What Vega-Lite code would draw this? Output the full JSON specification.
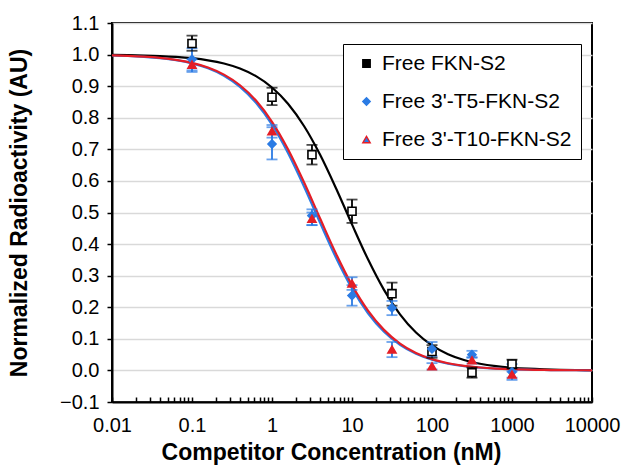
{
  "$schema": "https://vega.github.io/schema/vega-lite/v6.json",
  "width": 480,
  "height": 379,
  "autosize": {"type": "none"},
  "padding": {"left": 112, "top": 23, "right": 31, "bottom": 70},
  "background": "white",
  "config": {
    "font": "Liberation Sans",
    "view": {"stroke": "black", "strokeWidth": 2},
    "axis": {"domainColor": "black", "domainWidth": 2, "tickColor": "black", "labelColor": "black", "titleColor": "black", "labelFont": "Liberation Sans", "titleFont": "Liberation Sans"}
  },
  "datasets": {
    "pts": [
      {"conc": 0.1, "series": "Free FKN-S2", "val": 1.035, "lo": 1.012, "hi": 1.06},
      {"conc": 1, "series": "Free FKN-S2", "val": 0.865, "lo": 0.84, "hi": 0.895},
      {"conc": 3.16, "series": "Free FKN-S2", "val": 0.683, "lo": 0.652, "hi": 0.714},
      {"conc": 10, "series": "Free FKN-S2", "val": 0.504, "lo": 0.467, "hi": 0.541},
      {"conc": 31.6, "series": "Free FKN-S2", "val": 0.243, "lo": 0.205, "hi": 0.278},
      {"conc": 100, "series": "Free FKN-S2", "val": 0.06, "lo": 0.04, "hi": 0.08},
      {"conc": 316, "series": "Free FKN-S2", "val": -0.007, "lo": -0.023, "hi": 0.009},
      {"conc": 1000, "series": "Free FKN-S2", "val": 0.02, "lo": 0.006, "hi": 0.034},
      {"conc": 0.1, "series": "Free 3'-T5-FKN-S2", "val": 0.985, "lo": 0.945, "hi": 1.02},
      {"conc": 1, "series": "Free 3'-T5-FKN-S2", "val": 0.717, "lo": 0.668, "hi": 0.77},
      {"conc": 3.16, "series": "Free 3'-T5-FKN-S2", "val": 0.49, "lo": 0.46, "hi": 0.51},
      {"conc": 10, "series": "Free 3'-T5-FKN-S2", "val": 0.237, "lo": 0.205, "hi": 0.27},
      {"conc": 31.6, "series": "Free 3'-T5-FKN-S2", "val": 0.198, "lo": 0.175, "hi": 0.22},
      {"conc": 100, "series": "Free 3'-T5-FKN-S2", "val": 0.068, "lo": 0.045, "hi": 0.09},
      {"conc": 316, "series": "Free 3'-T5-FKN-S2", "val": 0.05, "lo": 0.04, "hi": 0.062},
      {"conc": 1000, "series": "Free 3'-T5-FKN-S2", "val": -0.005, "lo": -0.03, "hi": 0.02},
      {"conc": 0.1, "series": "Free 3'-T10-FKN-S2", "val": 0.968, "lo": 0.95, "hi": 0.985},
      {"conc": 1, "series": "Free 3'-T10-FKN-S2", "val": 0.757, "lo": 0.737, "hi": 0.777},
      {"conc": 3.16, "series": "Free 3'-T10-FKN-S2", "val": 0.48, "lo": 0.46, "hi": 0.5},
      {"conc": 10, "series": "Free 3'-T10-FKN-S2", "val": 0.275, "lo": 0.255, "hi": 0.295},
      {"conc": 31.6, "series": "Free 3'-T10-FKN-S2", "val": 0.066, "lo": 0.042, "hi": 0.09},
      {"conc": 100, "series": "Free 3'-T10-FKN-S2", "val": 0.013, "lo": 0.003, "hi": 0.023},
      {"conc": 316, "series": "Free 3'-T10-FKN-S2", "val": 0.032, "lo": 0.022, "hi": 0.042},
      {"conc": 1000, "series": "Free 3'-T10-FKN-S2", "val": -0.013, "lo": -0.023, "hi": -0.003}
    ],
    "curve": [
      {"conc": 0.01, "series": "Free FKN-S2", "val": 0.99884},
      {"conc": 0.01585, "series": "Free FKN-S2", "val": 0.99816},
      {"conc": 0.02512, "series": "Free FKN-S2", "val": 0.99709},
      {"conc": 0.03981, "series": "Free FKN-S2", "val": 0.99539},
      {"conc": 0.0631, "series": "Free FKN-S2", "val": 0.99272},
      {"conc": 0.1, "series": "Free FKN-S2", "val": 0.98851},
      {"conc": 0.1585, "series": "Free FKN-S2", "val": 0.9819},
      {"conc": 0.2512, "series": "Free FKN-S2", "val": 0.97162},
      {"conc": 0.3981, "series": "Free FKN-S2", "val": 0.95576},
      {"conc": 0.631, "series": "Free FKN-S2", "val": 0.93165},
      {"conc": 1, "series": "Free FKN-S2", "val": 0.89583},
      {"conc": 1.585, "series": "Free FKN-S2", "val": 0.84438},
      {"conc": 2.512, "series": "Free FKN-S2", "val": 0.77395},
      {"conc": 3.981, "series": "Free FKN-S2", "val": 0.68358},
      {"conc": 6.31, "series": "Free FKN-S2", "val": 0.57681},
      {"conc": 10, "series": "Free FKN-S2", "val": 0.46237},
      {"conc": 15.85, "series": "Free FKN-S2", "val": 0.35176},
      {"conc": 25.12, "series": "Free FKN-S2", "val": 0.25505},
      {"conc": 39.81, "series": "Free FKN-S2", "val": 0.17765},
      {"conc": 63.1, "series": "Free FKN-S2", "val": 0.11995},
      {"conc": 100, "series": "Free FKN-S2", "val": 0.07919},
      {"conc": 158.5, "series": "Free FKN-S2", "val": 0.05147},
      {"conc": 251.2, "series": "Free FKN-S2", "val": 0.0331},
      {"conc": 398.1, "series": "Free FKN-S2", "val": 0.02115},
      {"conc": 631, "series": "Free FKN-S2", "val": 0.01345},
      {"conc": 1000, "series": "Free FKN-S2", "val": 0.00853},
      {"conc": 1585, "series": "Free FKN-S2", "val": 0.0054},
      {"conc": 2512, "series": "Free FKN-S2", "val": 0.00341},
      {"conc": 3981, "series": "Free FKN-S2", "val": 0.00216},
      {"conc": 6310, "series": "Free FKN-S2", "val": 0.00136},
      {"conc": 10000, "series": "Free FKN-S2", "val": 0.00086},
      {"conc": 0.01, "series": "Free 3'-T5-FKN-S2", "val": 0.99715},
      {"conc": 0.01585, "series": "Free 3'-T5-FKN-S2", "val": 0.99549},
      {"conc": 0.02512, "series": "Free 3'-T5-FKN-S2", "val": 0.99287},
      {"conc": 0.03981, "series": "Free 3'-T5-FKN-S2", "val": 0.98875},
      {"conc": 0.0631, "series": "Free 3'-T5-FKN-S2", "val": 0.98229},
      {"conc": 0.1, "series": "Free 3'-T5-FKN-S2", "val": 0.97222},
      {"conc": 0.1585, "series": "Free 3'-T5-FKN-S2", "val": 0.95667},
      {"conc": 0.2512, "series": "Free 3'-T5-FKN-S2", "val": 0.93303},
      {"conc": 0.3981, "series": "Free 3'-T5-FKN-S2", "val": 0.89783},
      {"conc": 0.631, "series": "Free 3'-T5-FKN-S2", "val": 0.84724},
      {"conc": 1, "series": "Free 3'-T5-FKN-S2", "val": 0.77775},
      {"conc": 1.585, "series": "Free 3'-T5-FKN-S2", "val": 0.68828},
      {"conc": 2.512, "series": "Free 3'-T5-FKN-S2", "val": 0.58214},
      {"conc": 3.981, "series": "Free 3'-T5-FKN-S2", "val": 0.46781},
      {"conc": 6.31, "series": "Free 3'-T5-FKN-S2", "val": 0.35676},
      {"conc": 10, "series": "Free 3'-T5-FKN-S2", "val": 0.25923},
      {"conc": 15.85, "series": "Free 3'-T5-FKN-S2", "val": 0.18087},
      {"conc": 25.12, "series": "Free 3'-T5-FKN-S2", "val": 0.12228},
      {"conc": 39.81, "series": "Free 3'-T5-FKN-S2", "val": 0.0808},
      {"conc": 63.1, "series": "Free 3'-T5-FKN-S2", "val": 0.05255},
      {"conc": 100, "series": "Free 3'-T5-FKN-S2", "val": 0.03381},
      {"conc": 158.5, "series": "Free 3'-T5-FKN-S2", "val": 0.0216},
      {"conc": 251.2, "series": "Free 3'-T5-FKN-S2", "val": 0.01374},
      {"conc": 398.1, "series": "Free 3'-T5-FKN-S2", "val": 0.00871},
      {"conc": 631, "series": "Free 3'-T5-FKN-S2", "val": 0.00552},
      {"conc": 1000, "series": "Free 3'-T5-FKN-S2", "val": 0.00349},
      {"conc": 1585, "series": "Free 3'-T5-FKN-S2", "val": 0.0022},
      {"conc": 2512, "series": "Free 3'-T5-FKN-S2", "val": 0.00139},
      {"conc": 3981, "series": "Free 3'-T5-FKN-S2", "val": 0.00088},
      {"conc": 6310, "series": "Free 3'-T5-FKN-S2", "val": 0.00055},
      {"conc": 10000, "series": "Free 3'-T5-FKN-S2", "val": 0.00035},
      {"conc": 0.01, "series": "Free 3'-T10-FKN-S2", "val": 0.9973},
      {"conc": 0.01585, "series": "Free 3'-T10-FKN-S2", "val": 0.99573},
      {"conc": 0.02512, "series": "Free 3'-T10-FKN-S2", "val": 0.99326},
      {"conc": 0.03981, "series": "Free 3'-T10-FKN-S2", "val": 0.98935},
      {"conc": 0.0631, "series": "Free 3'-T10-FKN-S2", "val": 0.98323},
      {"conc": 0.1, "series": "Free 3'-T10-FKN-S2", "val": 0.97368},
      {"conc": 0.1585, "series": "Free 3'-T10-FKN-S2", "val": 0.95893},
      {"conc": 0.2512, "series": "Free 3'-T10-FKN-S2", "val": 0.93643},
      {"conc": 0.3981, "series": "Free 3'-T10-FKN-S2", "val": 0.90285},
      {"conc": 0.631, "series": "Free 3'-T10-FKN-S2", "val": 0.85432},
      {"conc": 1, "series": "Free 3'-T10-FKN-S2", "val": 0.78723},
      {"conc": 1.585, "series": "Free 3'-T10-FKN-S2", "val": 0.70011},
      {"conc": 2.512, "series": "Free 3'-T10-FKN-S2", "val": 0.59564},
      {"conc": 3.981, "series": "Free 3'-T10-FKN-S2", "val": 0.4817},
      {"conc": 6.31, "series": "Free 3'-T10-FKN-S2", "val": 0.36965},
      {"conc": 10, "series": "Free 3'-T10-FKN-S2", "val": 0.27007},
      {"conc": 15.85, "series": "Free 3'-T10-FKN-S2", "val": 0.18927},
      {"conc": 25.12, "series": "Free 3'-T10-FKN-S2", "val": 0.12839},
      {"conc": 39.81, "series": "Free 3'-T10-FKN-S2", "val": 0.08503},
      {"conc": 63.1, "series": "Free 3'-T10-FKN-S2", "val": 0.05539},
      {"conc": 100, "series": "Free 3'-T10-FKN-S2", "val": 0.03568},
      {"conc": 158.5, "series": "Free 3'-T10-FKN-S2", "val": 0.02281},
      {"conc": 251.2, "series": "Free 3'-T10-FKN-S2", "val": 0.01452},
      {"conc": 398.1, "series": "Free 3'-T10-FKN-S2", "val": 0.00921},
      {"conc": 631, "series": "Free 3'-T10-FKN-S2", "val": 0.00583},
      {"conc": 1000, "series": "Free 3'-T10-FKN-S2", "val": 0.00369},
      {"conc": 1585, "series": "Free 3'-T10-FKN-S2", "val": 0.00233},
      {"conc": 2512, "series": "Free 3'-T10-FKN-S2", "val": 0.00147},
      {"conc": 3981, "series": "Free 3'-T10-FKN-S2", "val": 0.00093},
      {"conc": 6310, "series": "Free 3'-T10-FKN-S2", "val": 0.00059},
      {"conc": 10000, "series": "Free 3'-T10-FKN-S2", "val": 0.00037}
    ]
  },
  "encoding": {
    "x": {
      "field": "conc", "type": "quantitative",
      "scale": {"type": "log", "domain": [0.01, 10000], "nice": false},
      "axis": {
        "title": "Competitor Concentration (nM)",
        "titleFontSize": 23, "titleFontWeight": "bold", "titlePadding": 6,
        "titleX": 219, "titleAlign": "center",
        "labelFontSize": 20, "labelPadding": 18, "labelOverlap": false, "labelBound": false, "labelFlush": false,
        "grid": false, "tickSize": -5, "tickWidth": 1.5,
        "format": "~g",
        "values": [0.01,0.02,0.03,0.04,0.05,0.06,0.07,0.08,0.09,0.1,0.2,0.3,0.4,0.5,0.6,0.7,0.8,0.9,1,2,3,4,5,6,7,8,9,10,20,30,40,50,60,70,80,90,100,200,300,400,500,600,700,800,900,1000,2000,3000,4000,5000,6000,7000,8000,9000,10000],
        "labelExpr": "indexof([0.01,0.1,1,10,100,1000,10000], datum.value) >= 0 ? datum.label : ''"
      }
    },
    "y": {
      "field": "val", "type": "quantitative",
      "scale": {"domain": [-0.1, 1.1], "nice": false, "zero": false},
      "axis": {
        "title": "Normalized Radioactivity (AU)",
        "titleFontSize": 23, "titleFontWeight": "bold", "titlePadding": 28,
        "labelFontSize": 20, "labelPadding": 8, "tickSize": 5, "tickWidth": 1.5,
        "format": ".1f",
        "values": [-0.1,0,0.1,0.2,0.3,0.4,0.5,0.6,0.7,0.8,0.9,1,1.1],
        "grid": true, "gridColor": "#d9d9d9", "gridWidth": 1.5
      }
    }
  },
  "layer": [
    {
      "data": {"name": "curve"},
      "mark": {"type": "line", "strokeWidth": 2.2, "interpolate": "monotone"},
      "encoding": {
        "stroke": {
          "field": "series", "type": "nominal",
          "scale": {"domain": ["Free FKN-S2", "Free 3'-T5-FKN-S2", "Free 3'-T10-FKN-S2"], "range": ["#000000", "#2B7BE4", "#E41E26"]}
        }
      }
    },
    {
      "data": {"name": "pts"},
      "mark": {"type": "rule", "strokeWidth": 1.8},
      "encoding": {
        "y": {"field": "lo", "type": "quantitative"},
        "y2": {"field": "hi"},
        "color": {"field": "series", "type": "nominal", "legend": null,
          "scale": {"domain": ["Free FKN-S2", "Free 3'-T5-FKN-S2", "Free 3'-T10-FKN-S2"], "range": ["#000000", "#2B7BE4", "#2B7BE4"]}}
      }
    },
    {
      "data": {"name": "pts"},
      "mark": {"type": "tick", "orient": "horizontal", "size": 11, "thickness": 1.8},
      "encoding": {
        "y": {"field": "lo", "type": "quantitative"},
        "color": {"field": "series", "type": "nominal", "legend": null}
      }
    },
    {
      "data": {"name": "pts"},
      "mark": {"type": "tick", "orient": "horizontal", "size": 11, "thickness": 1.8},
      "encoding": {
        "y": {"field": "hi", "type": "quantitative"},
        "color": {"field": "series", "type": "nominal", "legend": null}
      }
    },
    {
      "data": {"name": "pts"},
      "mark": {"type": "point", "filled": false, "size": 65, "strokeWidth": 1.6, "opacity": 1},
      "encoding": {
        "shape": {"field": "series", "type": "nominal",
          "scale": {"domain": ["Free FKN-S2", "Free 3'-T5-FKN-S2", "Free 3'-T10-FKN-S2"], "range": ["square", "diamond", "triangle-up"]}},
        "fill": {"field": "series", "type": "nominal",
          "scale": {"domain": ["Free FKN-S2", "Free 3'-T5-FKN-S2", "Free 3'-T10-FKN-S2"], "range": ["#ffffff", "#2B7BE4", "#E41E26"]}},
        "stroke": {"field": "series", "type": "nominal",
          "legend": {
            "title": null, "orient": "none", "legendX": 231, "legendY": 21,
            "strokeColor": "black", "fillColor": "white", "padding": 9,
            "labelFontSize": 21, "labelFont": "Liberation Sans", "labelColor": "black",
            "symbolSize": 55, "symbolStrokeWidth": 1.4, "symbolOffset": 4, "rowPadding": 16, "labelOffset": 5, "labelLimit": 300,
            "encode": {"symbols": {"fill": {"value": {"expr": "scale('fill', datum.value)"}}, "stroke": {"value": {"expr": "scale('stroke', datum.value)"}}}}
          }}
      }
    }
  ]
}
